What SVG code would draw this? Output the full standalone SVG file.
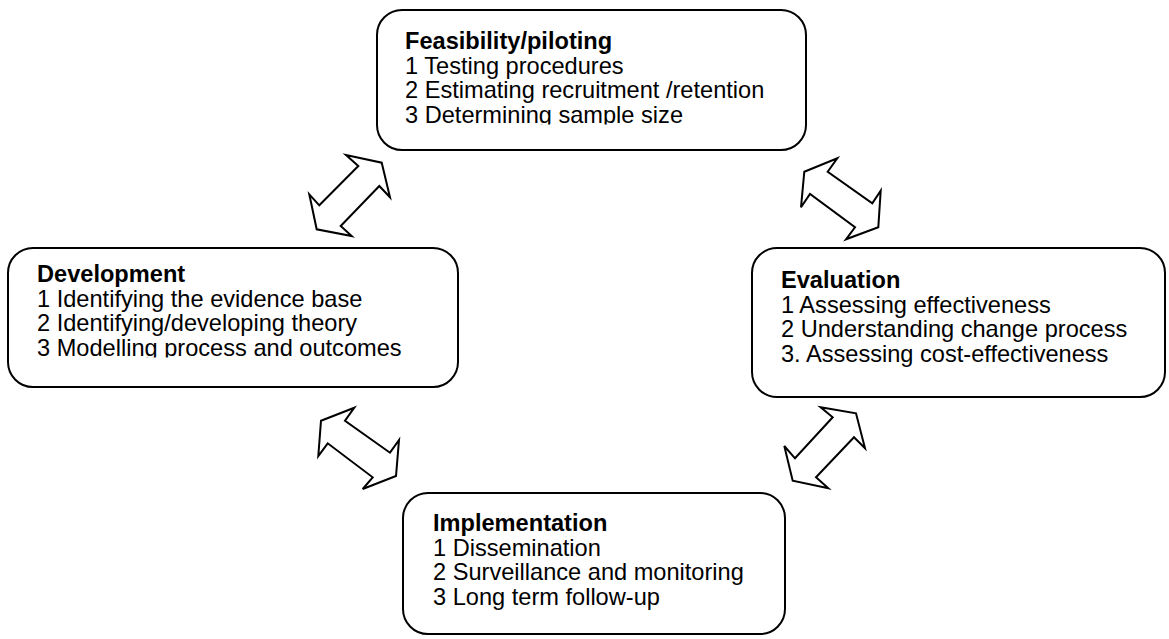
<svg xmlns="http://www.w3.org/2000/svg" width="1169" height="639" viewBox="0 0 1169 639">
  <style>
    .box { fill: #ffffff; stroke: #000000; stroke-width: 2; }
    .arrow { fill: #ffffff; stroke: #000000; stroke-width: 2; stroke-linejoin: miter; }
    text { font-family: "Liberation Sans", Arial, sans-serif; font-size: 23.6px; fill: #000000; }
    .title { font-weight: bold; }
  </style>
  <defs>
    <!-- text areas of the two boxes whose last line runs past the frame -->
    <clipPath id="clip-feas"><rect x="380" y="12" width="424" height="112.5"/></clipPath>
    <clipPath id="clip-dev"><rect x="10" y="250" width="444" height="107.5"/></clipPath>
  </defs>
  <rect width="1169" height="639" fill="#ffffff"/>

  <!-- two-way arrows between stages -->
  <g id="connectors">
    <polygon class="arrow" points="346,155 358.3,166 319.3,205.3 309.3,194.3 316.7,229.3 351.7,236 340.7,226 379.3,186 390,197.3 381.7,162.7"/>
    <polygon class="arrow" points="804.3,171.7 837.3,158.3 827.7,171.7 872.3,203.3 880.7,190.7 878.3,227.3 846,239.3 855,227.3 810,194 801,207.3"/>
    <polygon class="arrow" points="321,420.7 354.3,407.7 345,420.7 390,452.7 399,440 396,476 362.7,489 372.7,477.3 327.7,443.3 318.3,456"/>
    <polygon class="arrow" points="820.7,407.3 856,413.3 865,448.3 854,437.3 816,477.3 828.3,488.3 792.7,480.7 784.3,446 795,458.3 832.7,417.3"/>
  </g>

  <g id="feasibility">
    <rect class="box" x="377" y="10" width="429" height="140" rx="25" ry="25"/>
    <g clip-path="url(#clip-feas)">
      <text x="405" y="49" class="title">Feasibility/piloting</text>
      <text x="405" y="73.5">1 Testing procedures</text>
      <text x="405" y="98">2 Estimating recruitment /retention</text>
      <text x="405" y="122.5">3 Determining sample size</text>
    </g>
  </g>

  <g id="development">
    <rect class="box" x="8" y="248" width="450" height="139" rx="25" ry="25"/>
    <g clip-path="url(#clip-dev)">
      <text x="37" y="282" class="title">Development</text>
      <text x="37" y="306.5">1 Identifying the evidence base</text>
      <text x="37" y="331">2 Identifying/developing theory</text>
      <text x="37" y="355.5">3 Modelling process and outcomes</text>
    </g>
  </g>

  <g id="evaluation">
    <rect class="box" x="752" y="248" width="413" height="149" rx="25" ry="25"/>
    <text x="781" y="288" class="title">Evaluation</text>
    <text x="781" y="312.5">1 Assessing effectiveness</text>
    <text x="781" y="337">2 Understanding change process</text>
    <text x="781" y="361.5">3. Assessing cost-effectiveness</text>
  </g>

  <g id="implementation">
    <rect class="box" x="403" y="493" width="382" height="141" rx="25" ry="25"/>
    <text x="433" y="531" class="title">Implementation</text>
    <text x="433" y="555.5">1 Dissemination</text>
    <text x="433" y="580">2 Surveillance and monitoring</text>
    <text x="433" y="604.5">3 Long term follow-up</text>
  </g>
</svg>
